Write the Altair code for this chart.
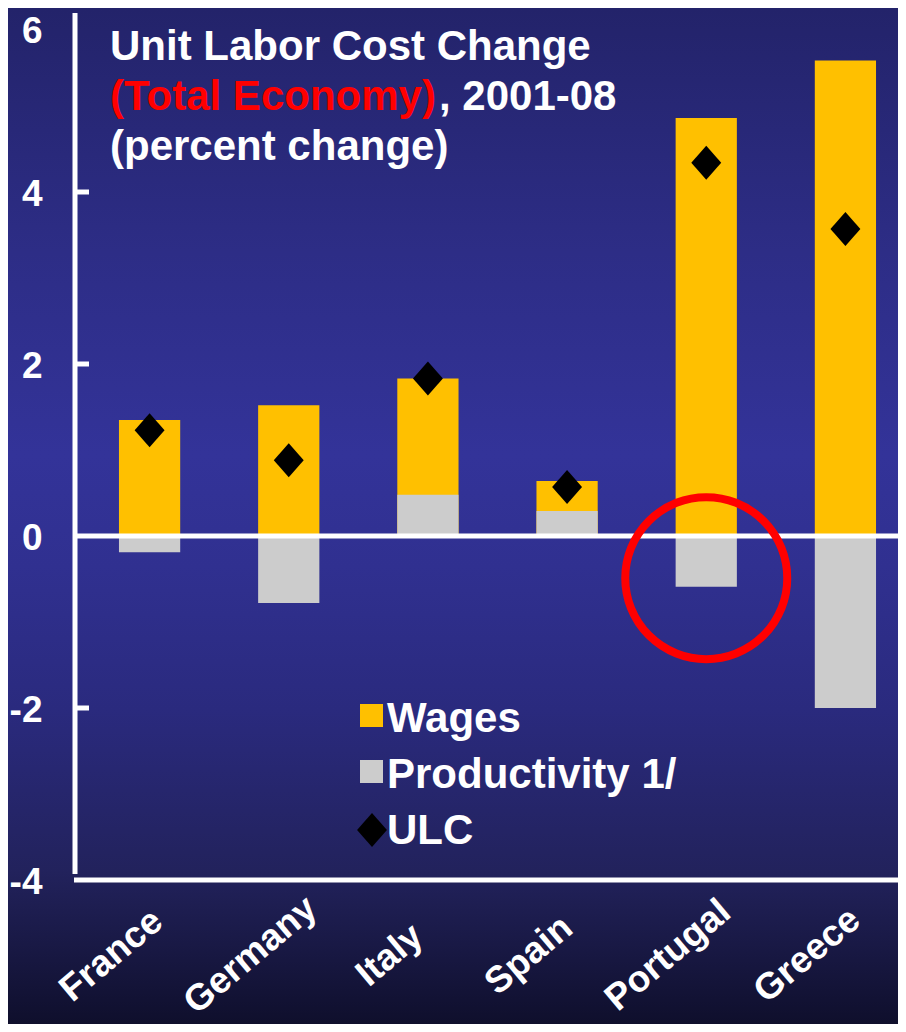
import altair as alt
import pandas as pd

# ---- data ----
countries = ["France", "Germany", "Italy", "Spain", "Portugal", "Greece"]
wages = [1.35, 1.52, 1.83, 0.64, 4.86, 5.53]
productivity = [-0.19, -0.78, 0.48, 0.29, -0.59, -2.00]
ulc = [1.23, 0.88, 1.83, 0.57, 4.34, 3.57]
y_tick_values = [-4, -2, 0, 2, 4, 6]
inner_ticks = [-2, 2, 4]
highlight_country = ["Portugal"]
highlight_value = [-0.49]

title_line1 = "Unit Labor Cost Change"
title_red = "(Total Economy)"
title_rest = ", 2001-08"
title_line3 = "(percent change)"
legend_labels = ["Wages", "Productivity 1/", "ULC"]

YELLOW = "#FFC000"
GRAY = "#CCCCCC"
FONT = "Liberation Sans"
W, H = 823, 860
PAD = {"left": 67, "top": 12, "right": 0, "bottom": 144}

df = pd.DataFrame({"country": countries, "wages": wages,
                   "prod": productivity, "ulc": ulc})
one = pd.DataFrame({"k": [0]})

xscale = alt.Scale(domain=countries, range=[5, 840],
                   paddingInner=0.56, paddingOuter=0.28)
yscale = alt.Scale(domain=[-4, 6], nice=False, zero=False)

x_axis = alt.Axis(title=None, domain=False, ticks=False, labelAngle=320,
                  labelAlign="center", labelBaseline="middle",
                  labelFont=FONT, labelFontWeight="bold", labelFontSize=37,
                  labelColor="white", labelPadding=75, labelOffset=-38,
                  labelOverlap=False, labelLimit=0, labelBound=False, zindex=1)
y_axis = alt.Axis(title=None, domain=False, ticks=False, grid=False,
                  values=y_tick_values, labelExpr="datum.value + ''",
                  labelFont=FONT, labelFontWeight="bold", labelFontSize=37,
                  labelColor="white", labelPadding=33, labelBaseline="middle",
                  labelOffset={"condition": {"test": "datum.value == 6", "value": 11},
                               "value": 2},
                  zindex=1)

X = alt.X("country:N", scale=xscale, sort=countries, axis=x_axis)

# background gradient
bg = alt.Chart(one).mark_rect(
    color=alt.LinearGradient(
        gradient="linear", x1=0, x2=0, y1=0, y2=1,
        stops=[alt.GradientStop(offset=0, color="#23236a"),
               alt.GradientStop(offset=0.24, color="#2d2d86"),
               alt.GradientStop(offset=0.44, color="#333399"),
               alt.GradientStop(offset=0.55, color="#303090"),
               alt.GradientStop(offset=0.69, color="#2a2a7e"),
               alt.GradientStop(offset=0.85, color="#22225c"),
               alt.GradientStop(offset=1.0, color="#0f0f2c")])
).encode(x=alt.value(-PAD["left"]), x2=alt.value(W + 10),
         y=alt.value(-PAD["top"]), y2=alt.value(H + PAD["bottom"]))

wage_bars = alt.Chart(df).mark_bar(color=YELLOW).encode(
    x=X, y=alt.Y("wages:Q", scale=yscale, axis=y_axis), y2=alt.datum(0))
prod_bars = alt.Chart(df).mark_bar(color=GRAY).encode(
    x=X, y=alt.Y("prod:Q", scale=yscale), y2=alt.datum(0))

axis_df = pd.DataFrame({"v": [0]})
zero_line = alt.Chart(axis_df).mark_rule(color="white", strokeWidth=5).encode(
    y=alt.Y("v:Q", scale=yscale), x=alt.value(0), x2=alt.value(W + 10))
x_line = alt.Chart(pd.DataFrame({"v": [-4]})).mark_rule(color="white", strokeWidth=5).encode(
    y=alt.Y("v:Q", scale=yscale), x=alt.value(-1), x2=alt.value(W + 10))
y_line = alt.Chart(one).mark_rule(color="white", strokeWidth=5).encode(
    x=alt.value(0), y=alt.value(-7), y2=alt.value(H - 6))
ticks = alt.Chart(pd.DataFrame({"v": inner_ticks})).mark_rule(color="white", strokeWidth=5).encode(
    y=alt.Y("v:Q", scale=yscale), x=alt.value(2), x2=alt.value(14))

DIAMOND = "M0,-1L0.88,0L0,1L-0.88,0Z"
ulc_pts = alt.Chart(df).mark_point(shape=DIAMOND, filled=True, color="black",
                                   opacity=1, size=1156).encode(
    x=X, y=alt.Y("ulc:Q", scale=yscale))

hl = alt.Chart(pd.DataFrame({"country": highlight_country, "v": highlight_value})).mark_point(
    shape="circle", filled=False, color="#FF0000", strokeWidth=8, opacity=1, size=26244
).encode(x=X, y=alt.Y("v:Q", scale=yscale))

def txt(s, x, y, size, color="white"):
    return alt.Chart(one).mark_text(
        align="left", baseline="alphabetic", font=FONT, fontWeight="bold",
        fontSize=size, color=color
    ).encode(x=alt.value(x), y=alt.value(y), text=alt.value(s))

TS = 42
title = [txt(title_line1, 35, 40, TS), txt(title_red, 35, 90, TS, "#FF0000"),
         txt(title_rest, 364, 90, TS), txt(title_line3, 35, 140, TS)]

LS = 42
leg_sq1 = alt.Chart(one).mark_square(color=YELLOW, size=529, opacity=1).encode(
    x=alt.value(296.5), y=alt.value(695.5))
leg_sq2 = alt.Chart(one).mark_square(color=GRAY, size=529, opacity=1).encode(
    x=alt.value(296.5), y=alt.value(751.5))
leg_dm = alt.Chart(one).mark_point(shape=DIAMOND, filled=True, color="black",
                                   opacity=1, size=1156).encode(
    x=alt.value(297), y=alt.value(810))
legend = [leg_sq1, leg_sq2, leg_dm,
          txt(legend_labels[0], 312, 712, LS),
          txt(legend_labels[1], 312, 768, LS),
          txt(legend_labels[2], 312, 824, LS)]

chart = alt.layer(
    bg, wage_bars, prod_bars, zero_line, x_line, y_line, ticks, ulc_pts, hl,
    *title, *legend
).properties(
    width=W, height=H, padding=PAD,
    autosize=alt.AutoSizeParams(type="none"),
    background="#23236a"
).configure_view(stroke=None)

chart.save("out.html", embed_options={"renderer": "svg", "actions": False})
